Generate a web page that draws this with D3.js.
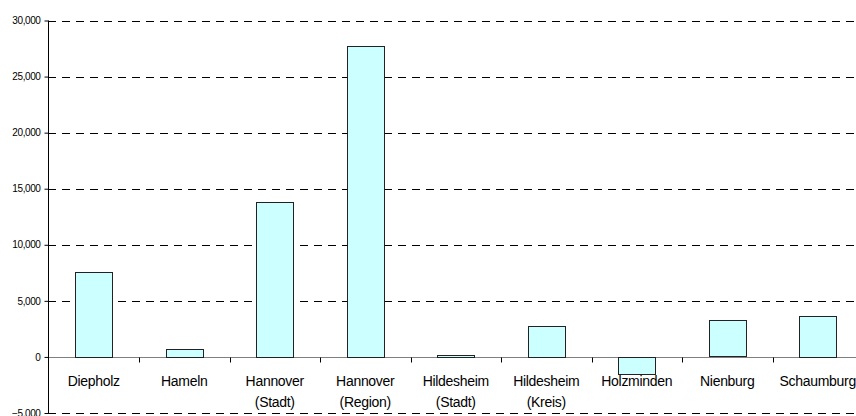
<!DOCTYPE html>
<html>
<head>
<meta charset="utf-8">
<script src="https://cdn.jsdelivr.net/npm/d3@7"></script>
<style>
  body { margin: 0; background: #fff; }
</style>
</head>
<body>
<div id="chart"></div>
<script>
const categories = ["Diepholz", "Hameln", "Hannover (Stadt)", "Hannover (Region)", "Hildesheim (Stadt)",
    "Hildesheim (Kreis)", "Holzminden", "Nienburg", "Schaumburg"];
const labelLines = [["Diepholz"], ["Hameln"], ["Hannover", "(Stadt)"], ["Hannover", "(Region)"],
    ["Hildesheim", "(Stadt)"], ["Hildesheim", "(Kreis)"], ["Holzminden"], ["Nienburg"], ["Schaumburg"]];
const values = [7600, 700, 13850, 27700, 200, 2800, -1500, 3250, 3650];
const yTicks = [-5000, 0, 5000, 10000, 15000, 20000, 25000, 30000];

const width = 856;
const height = 416;

const svg = d3.select("#chart")
    .append("svg")
    .attr("width", width)
    .attr("height", height)
    .style("font-family", "'Liberation Sans', Arial, sans-serif");

const x = d3.scaleBand()
    .domain(categories)
    .range([48.5, 863])
    .paddingInner(0.59)
    .paddingOuter(0.295);

const y = d3.scaleLinear()
    .domain([-5000, 30000])
    .range([413, 20.5]);

const step = x.step();

// dashed gridlines
svg.append("g")
    .selectAll("line")
    .data(yTicks.filter(d => d !== 0))
    .enter()
    .append("line")
    .attr("x1", 48)
    .attr("x2", width)
    .attr("y1", d => Math.round(y(d)) + 0.5)
    .attr("y2", d => Math.round(y(d)) + 0.5)
    .attr("stroke", "#000")
    .attr("stroke-dasharray", "8,6");

// zero line with category ticks
const zeroY = Math.round(y(0)) + 0.5;
svg.append("line")
    .attr("x1", 48)
    .attr("x2", width)
    .attr("y1", zeroY)
    .attr("y2", zeroY)
    .attr("stroke", "#808080");

svg.append("g")
    .selectAll("line")
    .data(categories.slice(1))
    .enter()
    .append("line")
    .attr("x1", d => Math.round(x(d) - (step - x.bandwidth()) / 2) + 0.5)
    .attr("x2", d => Math.round(x(d) - (step - x.bandwidth()) / 2) + 0.5)
    .attr("y1", zeroY)
    .attr("y2", zeroY + 5)
    .attr("stroke", "#000");

// bars
svg.append("g")
    .selectAll("rect")
    .data(values)
    .enter()
    .append("rect")
    .attr("x", (d, i) => Math.round(x(categories[i])) + 0.5)
    .attr("y", d => Math.round(y(Math.max(0, d))) + 0.5)
    .attr("width", Math.round(x.bandwidth()))
    .attr("height", d => Math.round(Math.abs(y(d) - y(0))))
    .attr("fill", "#ccffff")
    .attr("stroke", "#222");

// y axis
const yAxis = d3.axisLeft(y)
    .tickValues(yTicks)
    .tickSize(4)
    .tickPadding(4)
    .tickFormat(d3.format(","));

const yg = svg.append("g")
    .attr("transform", "translate(48.5,0)")
    .call(yAxis);
yg.select(".domain").attr("stroke", "#000").attr("d", `M0,${y(30000)}V${y(-5000)}`);
yg.selectAll(".tick line").attr("stroke", "#000");
yg.selectAll("text")
    .attr("font-size", "10px")
    .attr("letter-spacing", "-0.4px")
    .attr("font-family", "'Liberation Sans', Arial, sans-serif")
    .attr("fill", "#000");

// category labels
const lab = svg.append("g")
    .selectAll("text")
    .data(categories)
    .enter()
    .append("text")
    .attr("x", d => x(d) + x.bandwidth() / 2)
    .attr("y", 386)
    .attr("text-anchor", "middle")
    .attr("font-size", "14px")
    .attr("letter-spacing", "-0.3px")
    .attr("fill", "#000");

lab.selectAll("tspan")
    .data((d, i) => labelLines[i].map(t => ({ t, cx: x(d) + x.bandwidth() / 2 })))
    .enter()
    .append("tspan")
    .attr("x", d => d.cx)
    .attr("dy", (d, i) => i === 0 ? 0 : 21)
    .text(d => d.t);
</script>
</body>
</html>
